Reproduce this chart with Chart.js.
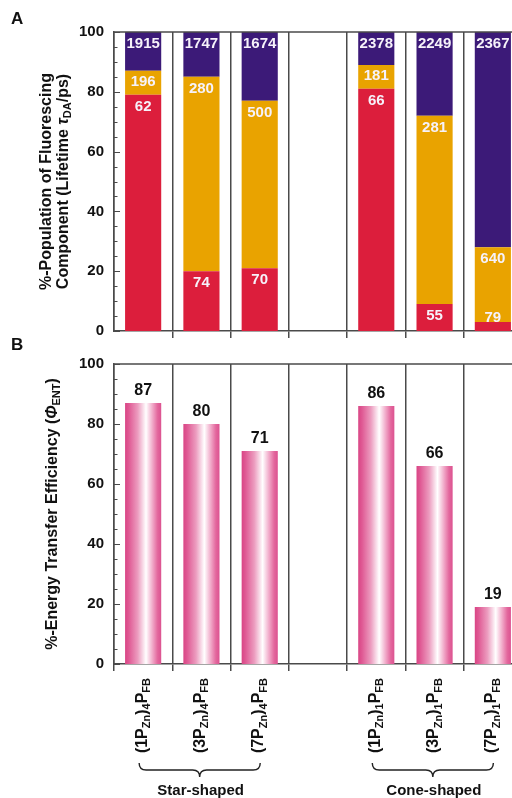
<!DOCTYPE html>
<html>
<head>
<meta charset="utf-8">
<script src="https://cdn.jsdelivr.net/npm/chart.js@4/dist/chart.umd.min.js"></script>
<style>
  html, body { margin: 0; padding: 0; background: #fff; overflow: hidden; width: 512px; height: 798px; }
  #wrap { position: relative; width: 530px; height: 798px; }
  #ca { position: absolute; left: 0; top: 0; }
  #cb { position: absolute; left: 0; top: 345px; }
  .panel { position: absolute; font: bold 17px "Liberation Sans", Arial, sans-serif; color: #111; }
</style>
</head>
<body>
<div id="wrap">
  <canvas id="ca" width="530" height="350"></canvas>
  <canvas id="cb" width="530" height="453"></canvas>
  <div class="panel" style="left:11px; top:9px;">A</div>
  <div class="panel" style="left:11px; top:335px;">B</div>
</div>
<script>
// Compounds (empty slot separates the two families); _{..} = subscript
const categories = [
  '(1P_{Zn})_{4}P_{FB}', '(3P_{Zn})_{4}P_{FB}', '(7P_{Zn})_{4}P_{FB}', '',
  '(1P_{Zn})_{1}P_{FB}', '(3P_{Zn})_{1}P_{FB}', '(7P_{Zn})_{1}P_{FB}'
];
const groups = [
  { name: 'Star-shaped', from: 0, to: 2 },
  { name: 'Cone-shaped', from: 4, to: 6 }
];

// Panel A: population (%) of each fluorescing component
const fastPct = [79, 20, 21, null, 81, 9, 3];
const midPct  = [8, 65, 56, null, 8, 63, 25];
const slowPct = [13, 15, 23, null, 11, 28, 72];
// Lifetimes tau_DA (ps) of those components
const fastTau = [62, 74, 70, null, 66, 55, 79];
const midTau  = [196, 280, 500, null, 181, 281, 640];
const slowTau = [1915, 1747, 1674, null, 2378, 2249, 2367];

// Panel B: energy transfer efficiency (%)
const efficiency = [87, 80, 71, null, 86, 66, 19];

const yTicks = [0, 20, 40, 60, 80, 100];
const titleA = ['%-Population of Fluorescing', 'Component (Lifetime *{τ}_{DA}/ps)'];
const titleB = '%-Energy Transfer Efficiency (*{Φ}_{ENT})';

const FONT = '"Liberation Sans", Arial, Helvetica, sans-serif';
const LINE = '#4a4a4a';
const RED = '#dc1e3c', ORANGE = '#e9a300', PURPLE = '#3c1a78', PINK = '#e05a93';
const BAR_FRACTION = 0.62;

// ---------- rich text helpers (subscripts / italics) ----------
function parseRich(str) {
  return str.split(/(_\{[^}]*\}|\*\{[^}]*\})/).filter(s => s.length).map(s => {
    if (s.startsWith('_{')) return { t: s.slice(2, -1), sub: true };
    if (s.startsWith('*{')) return { t: s.slice(2, -1), it: true };
    return { t: s };
  });
}
function drawRich(ctx, str, x, y, o) {
  const runs = parseRich(str);
  const fontOf = r => (r.it ? 'italic ' : '') + 'bold ' + (r.sub ? o.sub : o.size) + 'px ' + FONT;
  let total = 0;
  runs.forEach(r => { ctx.font = fontOf(r); r.w = ctx.measureText(r.t).width; total += r.w; });
  ctx.save();
  ctx.translate(x, y);
  ctx.rotate(o.rotate || 0);
  ctx.fillStyle = o.color || '#111';
  ctx.textBaseline = 'middle';
  ctx.textAlign = 'left';
  let cx = o.align === 'right' ? -total : (o.align === 'left' ? 0 : -total / 2);
  runs.forEach(r => {
    ctx.font = fontOf(r);
    ctx.fillText(r.t, cx, r.sub ? o.shift : 0);
    cx += r.w;
  });
  ctx.restore();
}

// ---------- shared plugins ----------
const framePlugin = {
  id: 'frame',
  afterDraw(chart) {
    const { ctx, chartArea: a, scales: { y } } = chart;
    ctx.save();
    ctx.strokeStyle = LINE;
    ctx.lineWidth = 1.5;
    ctx.beginPath();
    ctx.moveTo(a.left, a.top);
    ctx.lineTo(a.right, a.top);
    ctx.stroke();
    ctx.lineWidth = 1;
    for (let v = 0; v <= 100; v += 5) {
      const py = Math.round(y.getPixelForValue(v)) + 0.5;
      const len = v % 20 === 0 ? 6 : 3.5;
      ctx.beginPath();
      ctx.moveTo(a.left, py);
      ctx.lineTo(a.left + len, py);
      ctx.stroke();
    }
    ctx.restore();
  }
};

function yAxisTitle(lines, xs) {
  return {
    id: 'yTitle',
    afterDraw(chart) {
      const a = chart.chartArea;
      const cy = (a.top + a.bottom) / 2;
      lines.forEach((ln, i) => drawRich(chart.ctx, ln, xs[i], cy,
        { size: 16, sub: 11, shift: 4, rotate: -Math.PI / 2, align: 'center' }));
    }
  };
}

function yScale() {
  return {
    min: 0, max: 100,
    afterFit(s) { s.width = 114; },
    afterBuildTicks(s) { s.ticks = yTicks.map(v => ({ value: v })); },
    ticks: { padding: 10, color: '#111', font: { family: FONT, size: 15, weight: 'bold' } },
    grid: { display: false, drawTicks: false },
    border: { display: true, color: LINE, width: 1.5 }
  };
}

function xScale(height, hideFirstTick) {
  return {
    afterFit(s) { s.height = height; },
    ticks: { display: false },
    grid: {
      offset: true, color: LINE, lineWidth: 1.5, drawTicks: true, tickLength: 7,
      tickColor: c => (hideFirstTick && c.index === 0) ? 'rgba(0,0,0,0)' : LINE,
      tickWidth: 1.5
    },
    border: { display: true, color: LINE, width: 1.5 }
  };
}

// ---------- Panel A: stacked populations ----------
const segLabels = {
  id: 'segLabels',
  afterDatasetsDraw(chart) {
    const ctx = chart.ctx;
    ctx.save();
    ctx.font = 'bold 15px ' + FONT;
    ctx.fillStyle = '#f6f2fa';
    ctx.textAlign = 'center';
    ctx.textBaseline = 'middle';
    chart.data.datasets.forEach((ds, di) => {
      chart.getDatasetMeta(di).data.forEach((el, i) => {
        const v = ds.lifetimes[i];
        if (v == null || ds.data[i] == null) return;
        const y = Math.min(el.y + 12, el.base - 13);
        ctx.fillText(String(v), el.x, y);
      });
    });
    ctx.restore();
  }
};

new Chart(document.getElementById('ca'), {
  type: 'bar',
  data: {
    labels: categories,
    datasets: [
      { data: fastPct, lifetimes: fastTau, backgroundColor: RED },
      { data: midPct, lifetimes: midTau, backgroundColor: ORANGE },
      { data: slowPct, lifetimes: slowTau, backgroundColor: PURPLE }
    ]
  },
  options: {
    responsive: false,
    animation: false,
    layout: { padding: { top: 32, right: 8, left: 0, bottom: 0 } },
    datasets: { bar: { categoryPercentage: 1, barPercentage: BAR_FRACTION, borderWidth: 0 } },
    plugins: { legend: { display: false }, tooltip: { enabled: false } },
    scales: {
      x: Object.assign(xScale(11, true), { stacked: true }),
      y: Object.assign(yScale(), { stacked: true })
    }
  },
  plugins: [framePlugin, segLabels, yAxisTitle(titleA, [47, 64])]
});

// ---------- Panel B: transfer efficiency ----------
function pinkGradient(c) {
  const chart = c.chart, xs = chart.scales.x;
  if (!chart.chartArea || !xs || c.dataIndex == null) return PINK;
  const cx = xs.getPixelForValue(c.dataIndex);
  const half = xs.width / categories.length * BAR_FRACTION / 2;
  const g = chart.ctx.createLinearGradient(cx - half, 0, cx + half, 0);
  g.addColorStop(0.00, '#d94585');
  g.addColorStop(0.10, '#df5893');
  g.addColorStop(0.35, '#ec9cbf');
  g.addColorStop(0.58, '#ffffff');
  g.addColorStop(0.78, '#ef9fc2');
  g.addColorStop(0.90, '#e3679d');
  g.addColorStop(1.00, '#dc5290');
  return g;
}

const effLabels = {
  id: 'effLabels',
  afterDatasetsDraw(chart) {
    const ctx = chart.ctx;
    ctx.save();
    ctx.font = 'bold 16px ' + FONT;
    ctx.fillStyle = '#111';
    ctx.textAlign = 'center';
    ctx.textBaseline = 'middle';
    const ds = chart.data.datasets[0];
    chart.getDatasetMeta(0).data.forEach((el, i) => {
      if (ds.data[i] == null) return;
      ctx.fillText(String(ds.data[i]), el.x, el.y - 12);
    });
    ctx.restore();
  }
};

const categoryLabels = {
  id: 'categoryLabels',
  afterDraw(chart) {
    const { ctx, chartArea: a, scales: { x } } = chart;
    categories.forEach((lab, i) => {
      if (!lab) return;
      drawRich(ctx, lab, x.getPixelForValue(i) - 1, a.bottom + 14,
        { size: 16, sub: 11, shift: 5, rotate: -Math.PI / 2, align: 'right' });
    });
    ctx.save();
    ctx.strokeStyle = '#222';
    ctx.lineWidth = 1.4;
    const top = a.bottom + 99, h = 14, q = h / 2;
    groups.forEach(g => {
      const x1 = x.getPixelForValue(g.from) - 4;
      const x2 = x.getPixelForValue(g.to) + 0.5;
      const mid = (x1 + x2) / 2;
      ctx.beginPath();
      ctx.moveTo(x1, top);
      ctx.quadraticCurveTo(x1, top + q, x1 + q, top + q);
      ctx.lineTo(mid - q, top + q);
      ctx.quadraticCurveTo(mid, top + q, mid, top + h);
      ctx.quadraticCurveTo(mid, top + q, mid + q, top + q);
      ctx.lineTo(x2 - q, top + q);
      ctx.quadraticCurveTo(x2, top + q, x2, top);
      ctx.stroke();
      ctx.font = 'bold 15px ' + FONT;
      ctx.fillStyle = '#111';
      ctx.textAlign = 'center';
      ctx.textBaseline = 'middle';
      ctx.fillText(g.name, mid + 1, top + h + 14);
    });
    ctx.restore();
  }
};

new Chart(document.getElementById('cb'), {
  type: 'bar',
  data: {
    labels: categories,
    datasets: [{ data: efficiency, backgroundColor: pinkGradient }]
  },
  options: {
    responsive: false,
    animation: false,
    layout: { padding: { top: 12, right: 8, left: 0, bottom: 0 } },
    datasets: { bar: { categoryPercentage: 1, barPercentage: BAR_FRACTION, borderWidth: 0 } },
    plugins: { legend: { display: false }, tooltip: { enabled: false } },
    scales: {
      x: xScale(134, false),
      y: yScale()
    }
  },
  plugins: [framePlugin, effLabels, categoryLabels, yAxisTitle([titleB], [53])]
});
</script>
</body>
</html>
